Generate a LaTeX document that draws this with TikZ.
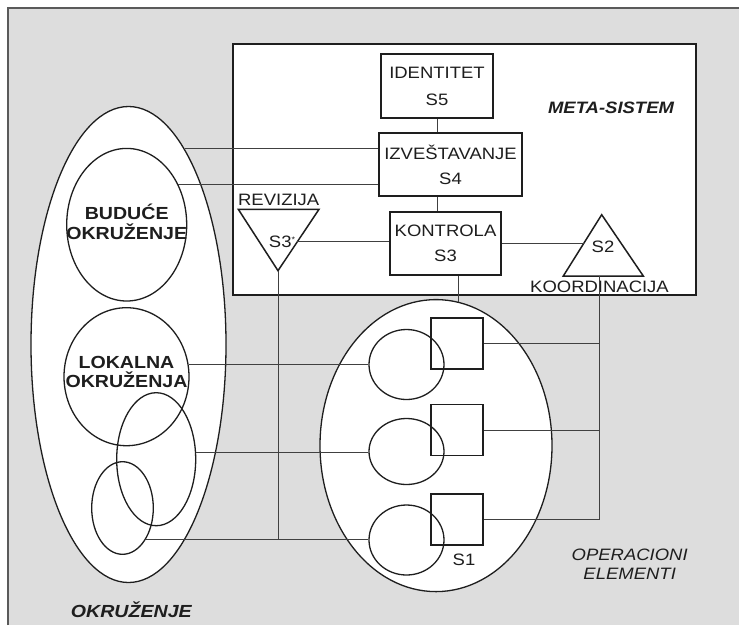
\documentclass[tikz,border=0pt]{standalone}
\usepackage{fontspec}
\setmainfont{Liberation Sans}[FakeStretch=1.12]
\usetikzlibrary{shapes.geometric}
\definecolor{bggray}{HTML}{DDDDDD}
\definecolor{ink}{HTML}{1E1E1E}
\definecolor{wire}{HTML}{404040}
\definecolor{framec}{HTML}{5A5A5A}
\begin{document}
\begin{tikzpicture}[x=1pt,y=-1pt,
  box/.style={draw=ink,line width=1.6pt,rectangle,inner sep=0pt,text=ink,align=center,
     font=\fontsize{16.5}{25}\selectfont},
  oval/.style={draw=ink,line width=1.3pt,ellipse,inner sep=0pt},
  sq/.style={draw=ink,line width=1.5pt,rectangle,inner sep=0pt,minimum width=52pt,minimum height=51pt},
  tri/.style={draw=ink,line width=1.5pt,line join=miter},
  conn/.style={draw=wire,line width=1pt},
  lbl/.style={text=ink,inner sep=0pt,font=\fontsize{16.5}{20}\selectfont},
  boldlbl/.style={text=ink,inner sep=0pt,align=center,font=\fontsize{17.5}{19.5}\selectfont\bfseries},
  itlbl/.style={text=ink,inner sep=0pt,align=center,font=\fontsize{16.5}{19}\selectfont\itshape}
]
\useasboundingbox (0,0) rectangle (739,625);
\fill[white] (0,0) rectangle (739,625);
\fill[bggray] (8,8) rectangle (739,625);
\draw[framec,line width=1.4pt] (8,625) -- (8,8) -- (739,8);

% meta-system frame
\node[draw=ink,line width=1.6pt,fill=white,rectangle,inner sep=0pt,minimum width=463pt,minimum height=251pt] (meta) at (464.5,169.5) {};
% environment ovals
\node[oval,fill=white,minimum width=195pt,minimum height=476pt] (env) at (128.5,344.5) {};
\node[oval,fill=white,minimum width=232pt,minimum height=292pt] (ops) at (436,445.6) {};

\node[oval,minimum width=120pt,minimum height=152.6pt] (bud) at (126.7,224.7) {};
\node[boldlbl] (budt) at (126.7,222) {BUDUĆE\\OKRUŽENJE};
\node[oval,minimum width=125pt,minimum height=138pt] (lok) at (126.5,376.7) {};
\node[boldlbl] (lokt) at (126.5,372) {LOKALNA\\OKRUŽENJA};
\node[oval,minimum width=79pt,minimum height=133pt] (mid) at (156.2,459.2) {};
\node[oval,minimum width=61.6pt,minimum height=92.6pt] (sml) at (122.5,508) {};

% meta-system boxes
\node[box,minimum width=112pt,minimum height=64pt] (s5) at (437,86) {IDENTITET\\[2pt]S5};
\node[box,minimum width=143pt,minimum height=63pt] (s4) at (450.5,164.5) {IZVEŠTAVANJE\\S4};
\node[box,minimum width=111pt,minimum height=63pt] (s3) at (445.5,243.5) {KONTROLA\\S3};
\node[itlbl,font=\fontsize{16.5}{19}\selectfont\bfseries\itshape] (metat) at (611,107.5) {META-SISTEM};

% triangles
\coordinate (revL) at (238.3,209.3);
\coordinate (revRt) at (319,209.3);
\coordinate (revA) at (278,270.7);
\coordinate (revR) at (297.4,241.7);
\draw[tri] (revL) -- (revRt) -- (revA) -- cycle;
\node[lbl] (revt) at (278.7,200) {REVIZIJA};
\node[lbl] (s3st) at (282,241.7) {S3\raisebox{0.6ex}{\fontsize{8}{8}\selectfont*}};

\coordinate (koA) at (601.7,214.7);
\coordinate (koL) at (563.3,276);
\coordinate (koR) at (643.3,276);
\coordinate (koE) at (584,243.5);
\coordinate (koB) at (599,276);
\draw[tri] (koA) -- (koR) -- (koL) -- cycle;
\node[lbl] (s2t) at (603,247) {S2};
\node[lbl] (koort) at (599.5,286.7) {KOORDINACIJA};

% operational elements
\node[oval,minimum width=75pt,minimum height=70pt] (c1) at (406.5,364.5) {};
\node[oval,minimum width=75pt,minimum height=66pt] (c2) at (406.5,451.5) {};
\node[oval,minimum width=75pt,minimum height=70pt] (c3) at (406.5,540) {};
\node[sq] (q1) at (457.2,343.3) {};
\node[sq] (q2) at (457.2,430) {};
\node[sq] (q3) at (457.2,519.3) {};
\node[lbl] (s1t) at (464,560) {S1};
\node[itlbl] (opt) at (629.7,564) {OPERACIONI\\ELEMENTI};
\node[itlbl,font=\fontsize{17.5}{20}\selectfont\bfseries\itshape] (envt) at (131.3,610) {OKRUŽENJE};

% connectors
\draw[conn] (s5.south) -- (s5.south |- s4.north);
\draw[conn] (s5.south |- s4.south) -- (s5.south |- s3.north);
\draw[conn] (env.74.5) -- (env.74.5 -| s4.west);
\draw[conn] (bud.38.4) -- (bud.38.4 -| s4.west);
\draw[conn] (revR) -- (revR -| s3.west);
\draw[conn] (s3.east) -- (koE);
\draw[conn] (ops.81.5) -- (ops.81.5 |- s3.south);
\draw[conn] (lok.11) -- (lok.11 -| c1.west);
\draw[conn] (mid.10.8) -- (mid.10.8 -| c2.west);
\draw[conn] (sml.-54) -- (sml.-54 -| c3.west);
\draw[conn] (revA) -- (revA |- sml.-54);
\draw[conn] (koB) -- (koB |- q3.east) -- (q3.east);
\draw[conn] (q1.east) -- (q1.east -| koB);
\draw[conn] (q2.east) -- (q2.east -| koB);
\end{tikzpicture}
\end{document}
